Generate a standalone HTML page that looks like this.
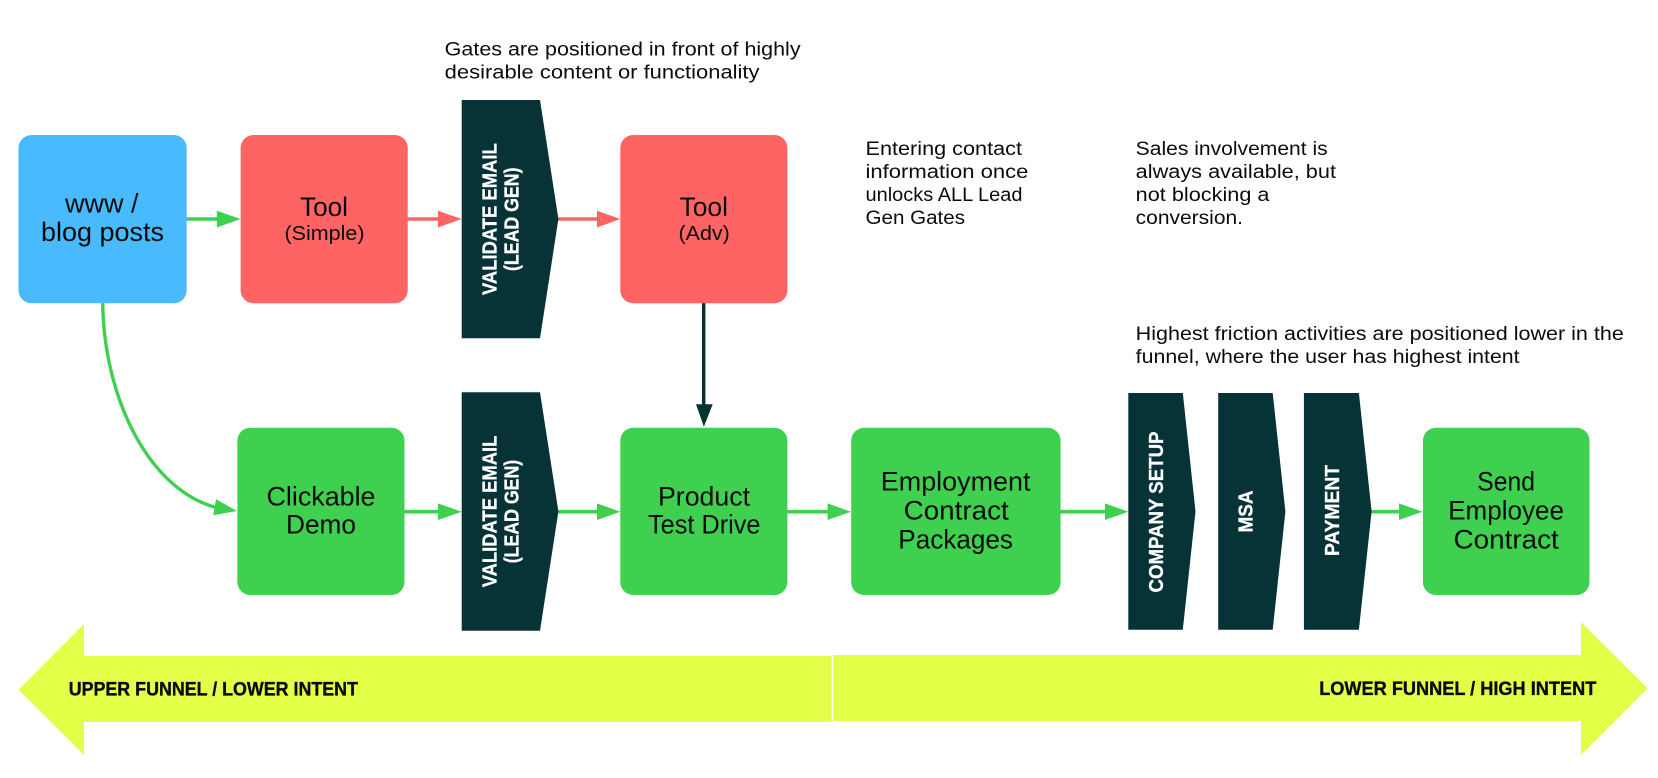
<!DOCTYPE html>
<html><head><meta charset="utf-8"><title>Funnel diagram</title>
<style>
html,body{margin:0;padding:0;background:#fff;width:1658px;height:778px;overflow:hidden}
svg{display:block}
text{font-family:"Liberation Sans",sans-serif;fill:#0b0b0b}
.n{font-size:19.6px}
.l{font-size:26.5px}
.s{font-size:20.5px}
.g{font-size:20px;font-weight:700;fill:#fff;stroke:#fff;stroke-width:.3px}
.y{font-size:19.5px;font-weight:700;fill:#0a0a0a;stroke:#0a0a0a;stroke-width:.35px}
</style></head><body>
<svg width="1658" height="778" viewBox="0 0 1658 778" xmlns="http://www.w3.org/2000/svg">
<rect width="1658" height="778" fill="#fff"/>

<!-- yellow arrows -->
<polygon points="18.5,689.7 84,624 84,656 831.7,656 831.7,722 84,722 84,755" fill="#e4ff47"/>
<polygon points="833.3,655 1581,655 1581,622 1647.6,688.3 1581,755 1581,721 833.3,721" fill="#e4ff47"/>

<!-- connectors -->
<g fill="none" stroke-width="3.6">
<path d="M186 219H220" stroke="#3ed04e"/>
<path d="M407 219H440" stroke="#ff6464"/>
<path d="M558 219H600" stroke="#ff6464"/>
<path d="M404 511.7H440" stroke="#3ed04e"/>
<path d="M558 511.7H600" stroke="#3ed04e"/>
<path d="M787 511.7H830" stroke="#3ed04e"/>
<path d="M1060 511.7H1107" stroke="#3ed04e"/>
<path d="M1371 511.7H1401" stroke="#3ed04e"/>
<path d="M102.7 303C104 400 150 490 216 507.5" stroke="#3ed04e" stroke-width="3.4"/>
<path d="M703.7 303V406" stroke="#073337" stroke-width="3.5"/>
</g>
<polygon points="216.8,210.8 240.6,219 216.8,227.5" fill="#3ed04e"/>
<polygon points="437.9,210.8 461.7,219 437.9,227.5" fill="#ff6464"/>
<polygon points="597,210.8 620.3,219 597,227.5" fill="#ff6464"/>
<polygon points="437.9,503.4 461.7,511.7 437.9,520" fill="#3ed04e"/>
<polygon points="597,503.4 620.3,511.7 597,520" fill="#3ed04e"/>
<polygon points="827.6,503.4 851,511.7 827.6,520" fill="#3ed04e"/>
<polygon points="1105,503.4 1128.3,511.7 1105,520" fill="#3ed04e"/>
<polygon points="1399,503.4 1422.5,511.7 1399,520" fill="#3ed04e"/>
<polygon points="216,499.3 237,511 213.3,515.3" fill="#3ed04e"/>
<polygon points="696,404.3 712.7,404.3 703.9,426.7" fill="#073337"/>

<!-- nodes -->
<rect x="18.5" y="135" width="168.2" height="168.3" rx="13" fill="#4abaff"/>
<rect x="240.6" y="135" width="167.1" height="168.3" rx="13" fill="#ff6464"/>
<rect x="620.3" y="135" width="167.1" height="168.3" rx="13" fill="#ff6464"/>
<rect x="237.4" y="427.7" width="167.1" height="167.3" rx="13" fill="#3ed04e"/>
<rect x="620.3" y="427.7" width="167.1" height="167.3" rx="13" fill="#3ed04e"/>
<rect x="851.2" y="427.7" width="209.4" height="167.3" rx="13" fill="#3ed04e"/>
<rect x="1422.9" y="427.7" width="166.6" height="167.3" rx="13" fill="#3ed04e"/>

<!-- gates -->
<polygon points="461.7,100 540,100 558.4,219 540,338.3 461.7,338.3" fill="#073337"/>
<polygon points="461.7,392.3 540,392.3 558.4,511.5 540,630.7 461.7,630.7" fill="#073337"/>
<polygon points="1128.3,393 1182.8,393 1195.5,511.5 1182.8,629.7 1128.3,629.7" fill="#073337"/>
<polygon points="1218.2,393 1272.7,393 1285.4,511.5 1272.7,629.7 1218.2,629.7" fill="#073337"/>
<polygon points="1303.9,393 1358.9,393 1371.6,511.5 1358.9,629.7 1303.9,629.7" fill="#073337"/>

<!-- gate text -->
<text class="g" transform="translate(496.3 295) rotate(-90)" textLength="151.7" lengthAdjust="spacingAndGlyphs">VALIDATE EMAIL</text>
<text class="g" transform="translate(518.5 271) rotate(-90)" textLength="103.5" lengthAdjust="spacingAndGlyphs">(LEAD GEN)</text>
<text class="g" transform="translate(496.3 587.3) rotate(-90)" textLength="151.7" lengthAdjust="spacingAndGlyphs">VALIDATE EMAIL</text>
<text class="g" transform="translate(518.5 563.3) rotate(-90)" textLength="103.5" lengthAdjust="spacingAndGlyphs">(LEAD GEN)</text>
<text class="g" transform="translate(1163 592.5) rotate(-90)" textLength="161" lengthAdjust="spacingAndGlyphs">COMPANY SETUP</text>
<text class="g" transform="translate(1252.5 532.5) rotate(-90)" textLength="42" lengthAdjust="spacingAndGlyphs">MSA</text>
<text class="g" transform="translate(1339 556) rotate(-90)" textLength="91" lengthAdjust="spacingAndGlyphs">PAYMENT</text>

<!-- node labels -->
<text class="l" x="65" y="212.7" textLength="73.5" lengthAdjust="spacingAndGlyphs">www /</text>
<text class="l" x="41" y="241" textLength="123" lengthAdjust="spacingAndGlyphs">blog posts</text>
<text class="l" x="300" y="216" textLength="48" lengthAdjust="spacingAndGlyphs">Tool</text>
<text class="s" x="284.5" y="240" textLength="80" lengthAdjust="spacingAndGlyphs">(Simple)</text>
<text class="l" x="679.5" y="216" textLength="48.5" lengthAdjust="spacingAndGlyphs">Tool</text>
<text class="s" x="678.5" y="240" textLength="51.3" lengthAdjust="spacingAndGlyphs">(Adv)</text>
<text class="l" x="266.5" y="505.7" textLength="109" lengthAdjust="spacingAndGlyphs">Clickable</text>
<text class="l" x="286" y="533.7" textLength="70" lengthAdjust="spacingAndGlyphs">Demo</text>
<text class="l" x="658" y="505.7" textLength="92" lengthAdjust="spacingAndGlyphs">Product</text>
<text class="l" x="648" y="533.7" textLength="112.5" lengthAdjust="spacingAndGlyphs">Test Drive</text>
<text class="l" x="880.8" y="490.7" textLength="149.7" lengthAdjust="spacingAndGlyphs">Employment</text>
<text class="l" x="903.6" y="519.7" textLength="105.2" lengthAdjust="spacingAndGlyphs">Contract</text>
<text class="l" x="898.3" y="548.3" textLength="114.7" lengthAdjust="spacingAndGlyphs">Packages</text>
<text class="l" x="1477.3" y="490.7" textLength="57.7" lengthAdjust="spacingAndGlyphs">Send</text>
<text class="l" x="1448.2" y="519.7" textLength="115.8" lengthAdjust="spacingAndGlyphs">Employee</text>
<text class="l" x="1453.5" y="548.3" textLength="105.3" lengthAdjust="spacingAndGlyphs">Contract</text>

<!-- notes -->
<text class="n" x="444.7" y="55.5" textLength="355.9" lengthAdjust="spacingAndGlyphs">Gates are positioned in front of highly</text>
<text class="n" x="444.7" y="78.5" textLength="314.8" lengthAdjust="spacingAndGlyphs">desirable content or functionality</text>
<text class="n" x="865.5" y="155" textLength="156.5" lengthAdjust="spacingAndGlyphs">Entering contact</text>
<text class="n" x="865.5" y="178" textLength="162.9" lengthAdjust="spacingAndGlyphs">information once</text>
<text class="n" x="865.5" y="201" textLength="157" lengthAdjust="spacingAndGlyphs">unlocks ALL Lead</text>
<text class="n" x="865.5" y="224" textLength="99.5" lengthAdjust="spacingAndGlyphs">Gen Gates</text>
<text class="n" x="1135.7" y="155" textLength="192" lengthAdjust="spacingAndGlyphs">Sales involvement is</text>
<text class="n" x="1135.7" y="178" textLength="200.3" lengthAdjust="spacingAndGlyphs">always available, but</text>
<text class="n" x="1135.7" y="201" textLength="133.8" lengthAdjust="spacingAndGlyphs">not blocking a</text>
<text class="n" x="1135.7" y="224" textLength="107.3" lengthAdjust="spacingAndGlyphs">conversion.</text>
<text class="n" x="1135.7" y="340" textLength="488.1" lengthAdjust="spacingAndGlyphs">Highest friction activities are positioned lower in the</text>
<text class="n" x="1135.7" y="363" textLength="383.9" lengthAdjust="spacingAndGlyphs">funnel, where the user has highest intent</text>

<!-- yellow labels -->
<text class="y" x="68.7" y="695.7" textLength="289.3" lengthAdjust="spacingAndGlyphs">UPPER FUNNEL / LOWER INTENT</text>
<text class="y" x="1319.2" y="695" textLength="277.1" lengthAdjust="spacingAndGlyphs">LOWER FUNNEL / HIGH INTENT</text>
</svg>
</body></html>
